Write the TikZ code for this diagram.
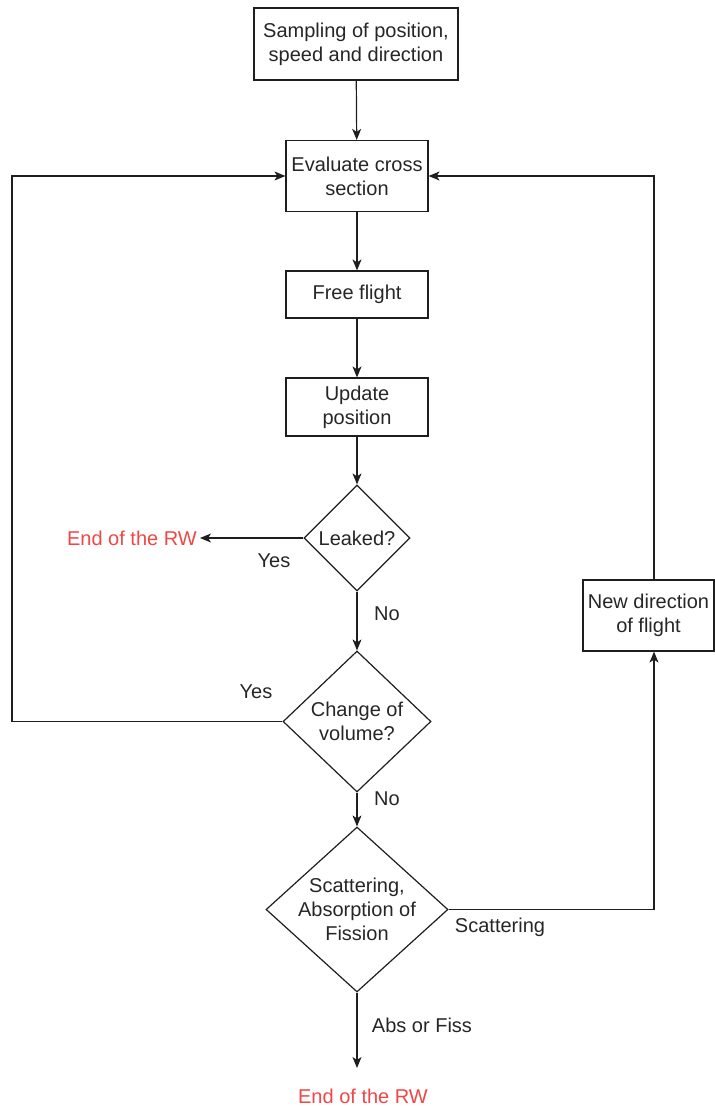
\documentclass[tikz,border=0pt]{standalone}
\usepackage{fontspec}
\setmainfont{Liberation Sans}
\usetikzlibrary{shapes.geometric,arrows.meta}
\definecolor{endred}{RGB}{240,70,70}
\definecolor{linegray}{RGB}{30,30,30}
\begin{document}
\begin{tikzpicture}[x=1pt,y=-1pt,
  every node/.style={font=\fontsize{20}{24}\selectfont, text=black!85},
  box/.style={draw=linegray, line width=1.2pt, align=center, inner sep=0pt},
  dia/.style={draw=linegray, line width=1.2pt, diamond, inner sep=0pt, aspect=1},
  lbl/.style={align=center, inner sep=0pt},
  endtxt/.style={text=endred, inner sep=0pt},
  arr/.style={draw=linegray, line width=1.2pt, -{Stealth[length=11pt,width=9pt,inset=3pt]}},
  ln/.style={draw=linegray, line width=1.2pt}]
\useasboundingbox (0,0) rectangle (715,1106);
% boxes
\node[box, minimum width=204pt, minimum height=72pt] (b1) at (356,44) {Sampling of position,\\speed and direction};
\node[box, minimum width=142pt, minimum height=71pt] (b2) at (357,176) {Evaluate cross\\section};
\node[box, minimum width=142pt, minimum height=47pt] (b3) at (357,294.5) {Free flight};
\node[box, minimum width=142pt, minimum height=58pt] (b4) at (357,407) {Update\\position};
\node[box, minimum width=131pt, minimum height=71pt] (b5) at (648.5,615.5) {New direction\\of flight};
% diamonds
\node[dia, minimum width=106pt, minimum height=106pt] (d1) at (357,538) {};
\node[lbl] (t1) at (d1) {Leaked?};
\node[dia, minimum width=148pt, minimum height=141pt] (d2) at (357,721.5) {};
\node[lbl] (t2) at (d2) {Change of\\volume?};
\node[dia, minimum width=182pt, minimum height=165pt] (d3) at (357,909.5) {};
\node[lbl] (t3) at (d3) {Scattering,\\Absorption of\\Fission};
% end texts
\node[endtxt, anchor=east] (e1) at (197,538) {End of the RW};
\node[endtxt] (e2) at (363,1096) {End of the RW};
\coordinate (e1tip) at (200,538);
\coordinate (e2top) at (357,1068);
% corner coordinates
\coordinate (cl1) at (12,721.5);
\coordinate (cl2) at (12,176);
\coordinate (cr1) at (654,909.5);
\coordinate (cr2) at (654,176);
% connectors
\draw[arr] (b1) -- (b2);
\draw[arr] (b2) -- (b3);
\draw[arr] (b3) -- (b4);
\draw[arr] (b4) -- (d1);
\draw[arr] (d1) -- (e1tip);
\draw[arr] (d1) -- (d2);
\draw[arr] (d2.west) -- (cl1) -- (cl2) -- (b2.west);
\draw[arr] (d2) -- (d3);
\draw[arr] (d3.east) -- (cr1) -- (b5.south -| cr1);
\draw[arr] (b5.north -| cr2) -- (cr2) -- (b2.east);
\draw[arr] (d3) -- (e2top);
% labels
\node[lbl] (yes1) at (274,561) {Yes};
\node[lbl] (no1) at (387,614) {No};
\node[lbl] (yes2) at (256,692) {Yes};
\node[lbl] (no2) at (387,799) {No};
\node[lbl] (scat) at (500,927) {Scattering};
\node[lbl] (abs) at (422,1025) {Abs or Fiss};
\end{tikzpicture}
\end{document}
